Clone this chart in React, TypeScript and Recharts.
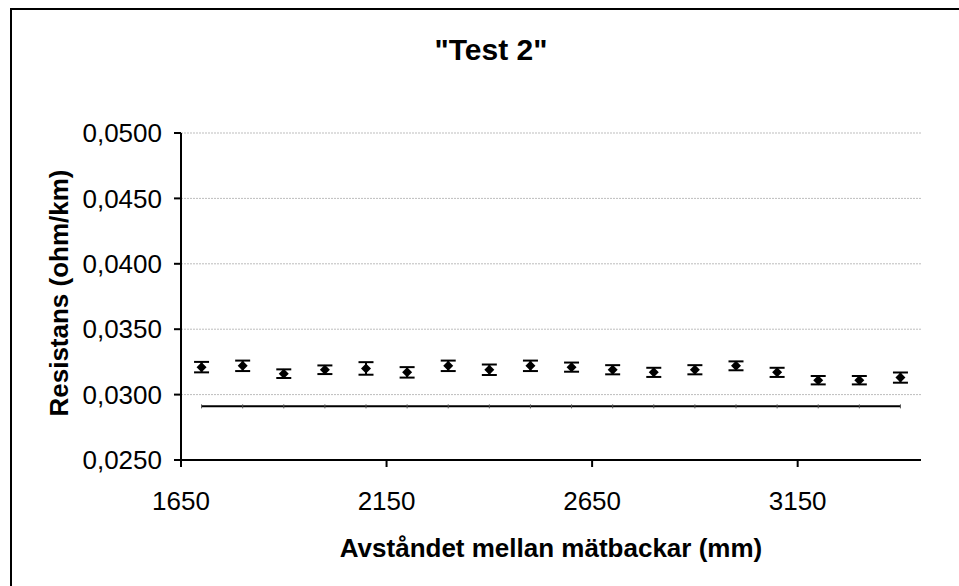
import React from 'react';
import { ScatterChart, Scatter, XAxis, YAxis, CartesianGrid, ErrorBar } from 'recharts';

const distances = [1700, 1800, 1900, 2000, 2100, 2200, 2300, 2400, 2500, 2600, 2700, 2800, 2900, 3000, 3100, 3200, 3300, 3400];
const resistance = [0.0321, 0.0322, 0.0316, 0.0319, 0.0320, 0.0317, 0.0322, 0.0319, 0.0322, 0.0321, 0.0319, 0.0317, 0.0319, 0.0322, 0.0317, 0.0311, 0.0311, 0.0313];
const errors = [0.0004, 0.0004, 0.00033, 0.00033, 0.00048, 0.0004, 0.0004, 0.0004, 0.0004, 0.00035, 0.00035, 0.00035, 0.00035, 0.00034, 0.00035, 0.00032, 0.00032, 0.00039];
const referenceValue = 0.0291;
const xTicks = [1650, 2150, 2650, 3150];
const yTicks = [0.025, 0.03, 0.035, 0.04, 0.045, 0.05];

const title = '"Test 2"';
const xLabel = 'Avståndet mellan mätbackar (mm)';
const yLabel = 'Resistans (ohm/km)';

const measured = distances.map((x, i) => ({ x, y: resistance[i], err: errors[i] }));
const reference = distances.map((x) => ({ x, y: referenceValue }));

const FONT = '"Liberation Sans", Arial, sans-serif';

const Diamond = (props: any) => {
  const { cx, cy } = props;
  if (cx == null || cy == null) return null;
  const r = 5;
  return <polygon points={`${cx},${cy - r} ${cx + r},${cy} ${cx},${cy + r} ${cx - r},${cy}`} fill="#000" />;
};

const SmallTick = (props: any) => {
  const { cx, cy } = props;
  if (cx == null || cy == null) return null;
  return <line x1={cx} x2={cx} y1={cy - 2} y2={cy + 2} stroke="#555" strokeWidth={1} />;
};

export default function App() {
  return (
    <div style={{ position: 'fixed', left: 0, top: 0, width: 959, height: 586, background: '#fff', overflow: 'hidden' }}>
      <div style={{ position: 'absolute', left: 10, top: 8, width: 1000, height: 700, borderTop: '2px solid #000', borderLeft: '2px solid #000' }} />
      <div style={{ position: 'absolute', left: 0, top: 0 }}>
        <ScatterChart width={959} height={586} margin={{ top: 133, right: 38, bottom: 96, left: 0 }}>
          <CartesianGrid vertical={false} horizontal={true} stroke="#bdbdbd" strokeDasharray="2 1" />
          <XAxis
            type="number"
            dataKey="x"
            domain={[1650, 3450]}
            ticks={xTicks}
            allowDataOverflow
            height={30}
            axisLine={{ stroke: '#000', strokeWidth: 2 }}
            tickLine={{ stroke: '#000', strokeWidth: 2 }}
            tickSize={7}
            tickMargin={25}
            tick={{ fill: '#000', fontSize: 26, fontFamily: FONT }}
          />
          <YAxis
            type="number"
            dataKey="y"
            domain={[0.025, 0.05]}
            ticks={yTicks}
            allowDataOverflow
            width={181}
            axisLine={{ stroke: '#000', strokeWidth: 2 }}
            tickLine={{ stroke: '#000', strokeWidth: 2 }}
            tickSize={7}
            tickMargin={12}
            tickFormatter={(v: number) => v.toFixed(4).replace('.', ',')}
            tick={{ fill: '#000', fontSize: 26, fontFamily: FONT }}
          />
          <Scatter
            data={reference}
            line={{ stroke: '#000', strokeWidth: 2 }}
            lineType="joint"
            shape={SmallTick}
            isAnimationActive={false}
          />
          <Scatter data={measured} shape={Diamond} isAnimationActive={false}>
            <ErrorBar dataKey="err" direction="y" width={7.5} stroke="#000" strokeWidth={2} isAnimationActive={false} />
          </Scatter>
        </ScatterChart>
      </div>
      <svg width={959} height={586} style={{ position: 'absolute', left: 0, top: 0, pointerEvents: 'none' }}>
        <text x={491} y={60} textAnchor="middle" fontFamily={FONT} fontWeight="bold" fontSize={30} fill="#000">{title}</text>
        <text x={551} y={557} textAnchor="middle" fontFamily={FONT} fontWeight="bold" fontSize={26} fill="#000">{xLabel}</text>
        <text x={0} y={0} transform="translate(68,293) rotate(-90)" textAnchor="middle" fontFamily={FONT} fontWeight="bold" fontSize={26} fill="#000">{yLabel}</text>
      </svg>
    </div>
  );
}
